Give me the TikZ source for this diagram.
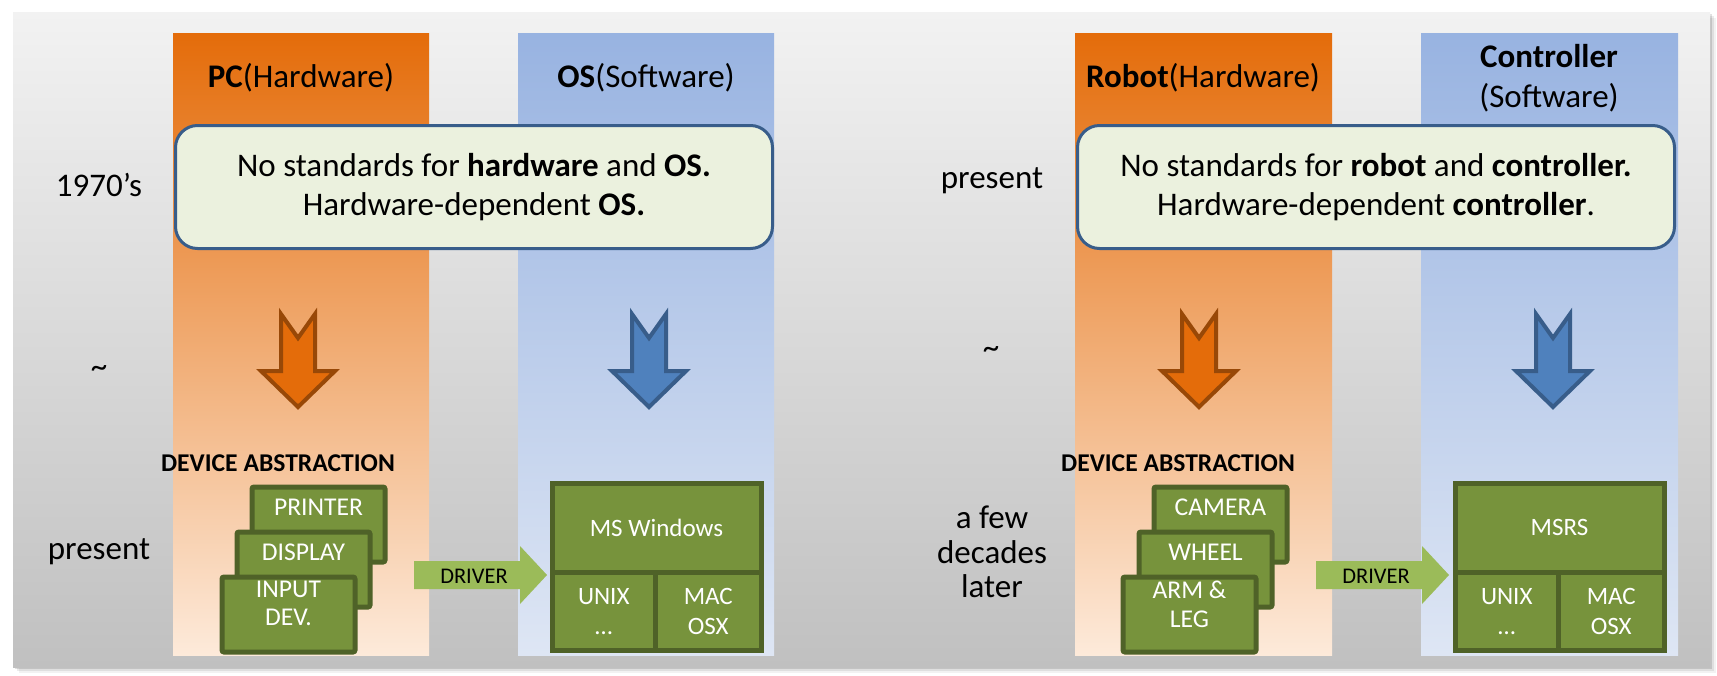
\documentclass[tikz,border=0pt]{standalone}
\usepackage{fontspec}
\setmainfont{Carlito}
\usetikzlibrary{calc}
\definecolor{panelTop}{RGB}{242,242,242}
\definecolor{panelBot}{RGB}{192,192,192}
\definecolor{orTop}{RGB}{228,108,10}
\definecolor{orMid}{RGB}{245,185,135}
\definecolor{orBot}{RGB}{253,234,218}
\definecolor{blTop}{RGB}{152,179,225}
\definecolor{blMid}{RGB}{189,206,236}
\definecolor{blBot}{RGB}{222,230,244}
\definecolor{boxFill}{RGB}{235,241,222}
\definecolor{boxLine}{RGB}{56,93,138}
\definecolor{devFill}{RGB}{119,147,60}
\definecolor{devLine}{RGB}{79,98,40}
\definecolor{drvFill}{RGB}{155,187,89}
\definecolor{arOrFill}{RGB}{228,108,10}
\definecolor{arOrLine}{RGB}{152,72,7}
\definecolor{arBlFill}{RGB}{79,129,189}
\definecolor{arBlLine}{RGB}{56,93,138}
\tikzset{
  ttl/.style={font=\fontsize{16.5}{20}\selectfont, align=center, inner sep=0pt},
  lbl/.style={font=\fontsize{16.5}{17.25}\selectfont, align=center, inner sep=0pt},
  stdbox/.style={draw=boxLine, fill=boxFill, line width=1.5pt, rounded corners=11pt,
    font=\fontsize{16.5}{19.5}\selectfont, align=center, inner sep=0pt,
    minimum width=298.5pt, minimum height=61.5pt},
  devbox/.style={draw=devLine, fill=devFill, line width=2.5pt, rounded corners=1pt,
    minimum width=66.5pt, minimum height=37.5pt, anchor=north west, inner sep=0pt},
  devtxt/.style={text=white, font=\fontsize{12.8}{14}\selectfont, align=center, inner sep=0pt},
  oscell/.style={draw=devLine, fill=devFill, line width=2.5pt, anchor=north west, inner sep=0pt,
    text=white, font=\fontsize{12.5}{15}\selectfont, align=center},
  abs/.style={font=\bfseries\fontsize{12.8}{14}\selectfont, inner sep=0pt},
  drvtxt/.style={font=\fontsize{11.2}{12}\selectfont, inner sep=0pt},
  orarrow/.style={fill=arOrFill, draw=arOrLine, line width=2pt, line join=miter},
  blarrow/.style={fill=arBlFill, draw=arBlLine, line width=2pt, line join=miter},
}
\begin{document}
\begin{tikzpicture}[x=0.5pt,y=-0.5pt]
\useasboundingbox (0,0) rectangle (1717,675);
\fill[white] (0,0) rectangle (1717,675);
% shadow
\foreach \o/\a in {6/0.05,4/0.08,2/0.12}
  \fill[black,opacity=\a] (13+\o,12+\o) rectangle (1710+\o,667+\o);
% panel
\shade[top color=panelTop, bottom color=panelBot] (13,12) rectangle (1710,667);
% columns
\shade[top color=orTop, middle color=orMid, bottom color=orBot] (173,33) rectangle (429,655);
\shade[top color=blTop, middle color=blMid, bottom color=blBot] (518,33) rectangle (774,655);
\shade[top color=orTop, middle color=orMid, bottom color=orBot] (1075,33) rectangle (1332,655);
\shade[top color=blTop, middle color=blMid, bottom color=blBot] (1421,33) rectangle (1678,655);

% titles
\node[ttl] (pc) at (301,78) {\textbf{PC}(Hardware)};
\node[ttl] (os) at (646,78) {\textbf{OS}(Software)};
\node[ttl] (robot) at (1203,78) {\textbf{Robot}(Hardware)};
\node[ttl] (ctrl) at (1549,78) {\textbf{Controller}\\(Software)};

% statement boxes
\node[stdbox] (box1) at (474,187) {No standards for \textbf{hardware} and \textbf{OS.}\\Hardware-dependent \textbf{OS.}};
\node[stdbox] (box2) at (1376,187) {No standards for \textbf{robot} and \textbf{controller.}\\Hardware-dependent \textbf{controller}.};

% time labels
\node[lbl] (t1) at (99,185) {1970’s};
\node[lbl] (tilde1) at (99,372) {\textasciitilde};
\node[lbl] (t2) at (99,552) {present};
\node[lbl] (t3) at (992,181) {present};
\node[lbl] (tilde2) at (991,353) {\textasciitilde};
\node[lbl] (t4) at (992,552) {a few\\decades\\later};

% down arrows
\foreach \cx/\st in {298/orarrow, 649/blarrow, 1199/orarrow, 1553/blarrow}
  \draw[\st] (\cx-17,314) -- (\cx,338) -- (\cx+17,314) -- (\cx+17,371) -- (\cx+37,371)
    -- (\cx,407) -- (\cx-37,371) -- (\cx-17,371) -- cycle;

% device abstraction (left)
\node[abs] (abs1) at (278,463) {DEVICE ABSTRACTION};
\node[devbox] (printer) at (249.5,484.5) {};
\node[devtxt] (printerT) at ([yshift=-11.25pt]printer.north) {PRINTER};
\node[devbox] (display) at (234.5,529.5) {};
\node[devtxt] (displayT) at ([yshift=-11.25pt]display.north) {DISPLAY};
\node[devbox] (input) at (219.5,574.5) {};
\node[devtxt, anchor=north] (inputT) at ([yshift=-3.3pt]input.north) {INPUT\\DEV.};

% device abstraction (right)
\node[abs] (abs2) at (1178,463) {DEVICE ABSTRACTION};
\node[devbox] (camera) at (1151.5,484.5) {};
\node[devtxt] (cameraT) at ([yshift=-11.25pt]camera.north) {CAMERA};
\node[devbox] (wheel) at (1136.5,529.5) {};
\node[devtxt] (wheelT) at ([yshift=-11.25pt]wheel.north) {WHEEL};
\node[devbox] (arm) at (1120.5,574.5) {};
\node[devtxt, anchor=north] (armT) at ([yshift=-3.3pt]arm.north) {ARM \&\\LEG};

% driver arrows
\fill[drvFill] (414,561) -- (520,561) -- (520,546) -- (547,575) -- (520,604) -- (520,589) -- (414,589) -- cycle;
\node[drvtxt] (drv1) at (474,576) {DRIVER};
\fill[drvFill] (1316,561) -- (1422,561) -- (1422,546) -- (1449,575) -- (1422,604) -- (1422,589) -- (1316,589) -- cycle;
\node[drvtxt] (drv2) at (1376,576) {DRIVER};

% OS blocks
\node[oscell, minimum width=104.5pt, minimum height=44.75pt] (win) at (549.5,480.5) {MS Windows};
\node[oscell, minimum width=51.75pt, minimum height=38.75pt] (unix1) at (549.5,570) {UNIX\\…};
\node[oscell, minimum width=52.75pt, minimum height=38.75pt] (mac1) at (653,570) {MAC\\OSX};

\node[oscell, minimum width=104.5pt, minimum height=44.75pt] (msrs) at (1452.5,480.5) {MSRS};
\node[oscell, minimum width=51.75pt, minimum height=38.75pt] (unix2) at (1452.5,570) {UNIX\\…};
\node[oscell, minimum width=52.75pt, minimum height=38.75pt] (mac2) at (1556,570) {MAC\\OSX};
\end{tikzpicture}
\end{document}
